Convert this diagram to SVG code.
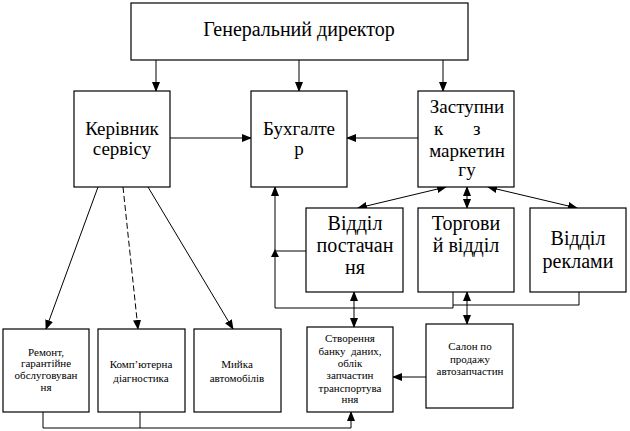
<svg xmlns="http://www.w3.org/2000/svg" width="630" height="431" viewBox="0 0 630 431">
<style>
.box{fill:#fff;stroke:#000;stroke-width:1.2}
.ln{fill:none;stroke:#000;stroke-width:1}
text{font-family:"Liberation Serif","DejaVu Serif","Times New Roman",serif;fill:#000;text-anchor:middle}
.big{font-size:19px}
.mid{font-size:20px}
.sm{font-size:11px}
</style>
<defs>
<marker id="ah" markerWidth="10" markerHeight="8" refX="9" refY="4" orient="auto-start-reverse" markerUnits="userSpaceOnUse">
<path d="M0,0 L10,4 L0,8 Z" fill="#000"/>
</marker>
</defs>
<rect width="630" height="431" fill="#fff"/>
<g id="connectors">
<line class="ln" x1="156" y1="60" x2="156" y2="91" marker-end="url(#ah)"/>
<line class="ln" x1="299" y1="60" x2="299" y2="91" marker-end="url(#ah)"/>
<line class="ln" x1="443" y1="60" x2="443" y2="91" marker-end="url(#ah)"/>
<line class="ln" x1="170" y1="138" x2="251" y2="138" marker-end="url(#ah)"/>
<line class="ln" x1="418" y1="138" x2="347" y2="138" marker-end="url(#ah)"/>
<line class="ln" x1="358" y1="208" x2="446" y2="187" marker-start="url(#ah)" marker-end="url(#ah)"/>
<line class="ln" x1="467" y1="208" x2="467" y2="187" marker-start="url(#ah)" marker-end="url(#ah)"/>
<line class="ln" x1="577" y1="208" x2="488" y2="187" marker-start="url(#ah)" marker-end="url(#ah)"/>
<line class="ln" x1="98" y1="187" x2="46" y2="329" marker-end="url(#ah)"/>
<line class="ln" x1="123" y1="187" x2="138" y2="329" stroke-dasharray="6,3" marker-end="url(#ah)"/>
<line class="ln" x1="148" y1="187" x2="233" y2="329" marker-end="url(#ah)"/>
<line class="ln" x1="275" y1="308" x2="275" y2="187" marker-end="url(#ah)"/>
<line class="ln" x1="306" y1="251" x2="275" y2="251"/>
<path d="M275,249 L271,257 L279,257 Z" style="fill:#000;stroke:none"/>
<polyline class="ln" points="275,308 453,308"/>
<line class="ln" x1="453" y1="292" x2="453" y2="308"/>
<polyline class="ln" points="453,305 579,305 579,292"/>
<line class="ln" x1="354" y1="292" x2="354" y2="327" marker-start="url(#ah)" marker-end="url(#ah)"/>
<line class="ln" x1="467" y1="292" x2="467" y2="324" marker-start="url(#ah)" marker-end="url(#ah)"/>
<line class="ln" x1="426" y1="377" x2="393" y2="377" marker-end="url(#ah)"/>
<polyline class="ln" points="43,412 43,428 351,428 351,412" marker-end="url(#ah)"/>
<line class="ln" x1="140" y1="412" x2="140" y2="428"/>
</g>
<g id="gen-dir">
<rect class="box" x="131" y="3" width="337" height="57"/>
<text class="mid" x="299" y="36">Генеральний директор</text>
</g>
<g id="kerivnyk">
<rect class="box" x="74" y="91" width="96" height="96"/>
<text class="big" x="122" y="135">Керівник</text>
<text class="big" x="122" y="155">сервісу</text>
</g>
<g id="buhgalter">
<rect class="box" x="251" y="91" width="96" height="96"/>
<text class="big" x="299" y="135">Бухгалте</text>
<text class="big" x="299" y="155">р</text>
</g>
<g id="zastupnyk">
<rect class="box" x="418" y="91" width="96" height="96"/>
<text class="big" x="467" y="113">Заступни</text>
<text class="big" x="434 444 473" y="135" style="text-anchor:start">к з</text>
<text class="big" x="467" y="157">маркетин</text>
<text class="big" x="467" y="176">гу</text>
</g>
<g id="postachannya">
<rect class="box" x="306" y="208" width="97" height="84"/>
<text class="mid" x="355" y="230">Відділ</text>
<text class="mid" x="355" y="252">постачан</text>
<text class="mid" x="355" y="274">ня</text>
</g>
<g id="torgovyi">
<rect class="box" x="418" y="208" width="96" height="84"/>
<text class="mid" x="466" y="230">Торгови</text>
<text class="mid" x="466" y="252">й відділ</text>
</g>
<g id="reklama">
<rect class="box" x="530" y="208" width="96" height="84"/>
<text class="mid" x="578" y="245">Відділ</text>
<text class="mid" x="578" y="268">реклами</text>
</g>
<g id="remont">
<rect class="box" x="3" y="329" width="86" height="83"/>
<text class="sm" x="46" y="356">Ремонт,</text>
<text class="sm" x="46" y="367">гарантійне</text>
<text class="sm" x="46" y="379">обслуговуван</text>
<text class="sm" x="46" y="391">ня</text>
</g>
<g id="diagnostyka">
<rect class="box" x="98" y="329" width="87" height="83"/>
<text class="sm" x="141" y="368">Комп’ютерна</text>
<text class="sm" x="141" y="382">діагностика</text>
</g>
<g id="myika">
<rect class="box" x="194" y="329" width="87" height="83"/>
<text class="sm" x="237" y="368">Мийка</text>
<text class="sm" x="237" y="382">автомобілів</text>
</g>
<g id="bank">
<rect class="box" x="307" y="327" width="86" height="85"/>
<text class="sm" x="350" y="342">Створення</text>
<text class="sm" x="350" y="355" xml:space="preserve">банку  даних,</text>
<text class="sm" x="350" y="367">облік</text>
<text class="sm" x="350" y="379">запчастин</text>
<text class="sm" x="350" y="392">транспортува</text>
<text class="sm" x="350" y="403">ння</text>
</g>
<g id="salon">
<rect class="box" x="426" y="324" width="87" height="84"/>
<text class="sm" x="470" y="350">Салон по</text>
<text class="sm" x="470" y="363">продажу</text>
<text class="sm" x="470" y="375">автозапчастин</text>
</g>
</svg>
